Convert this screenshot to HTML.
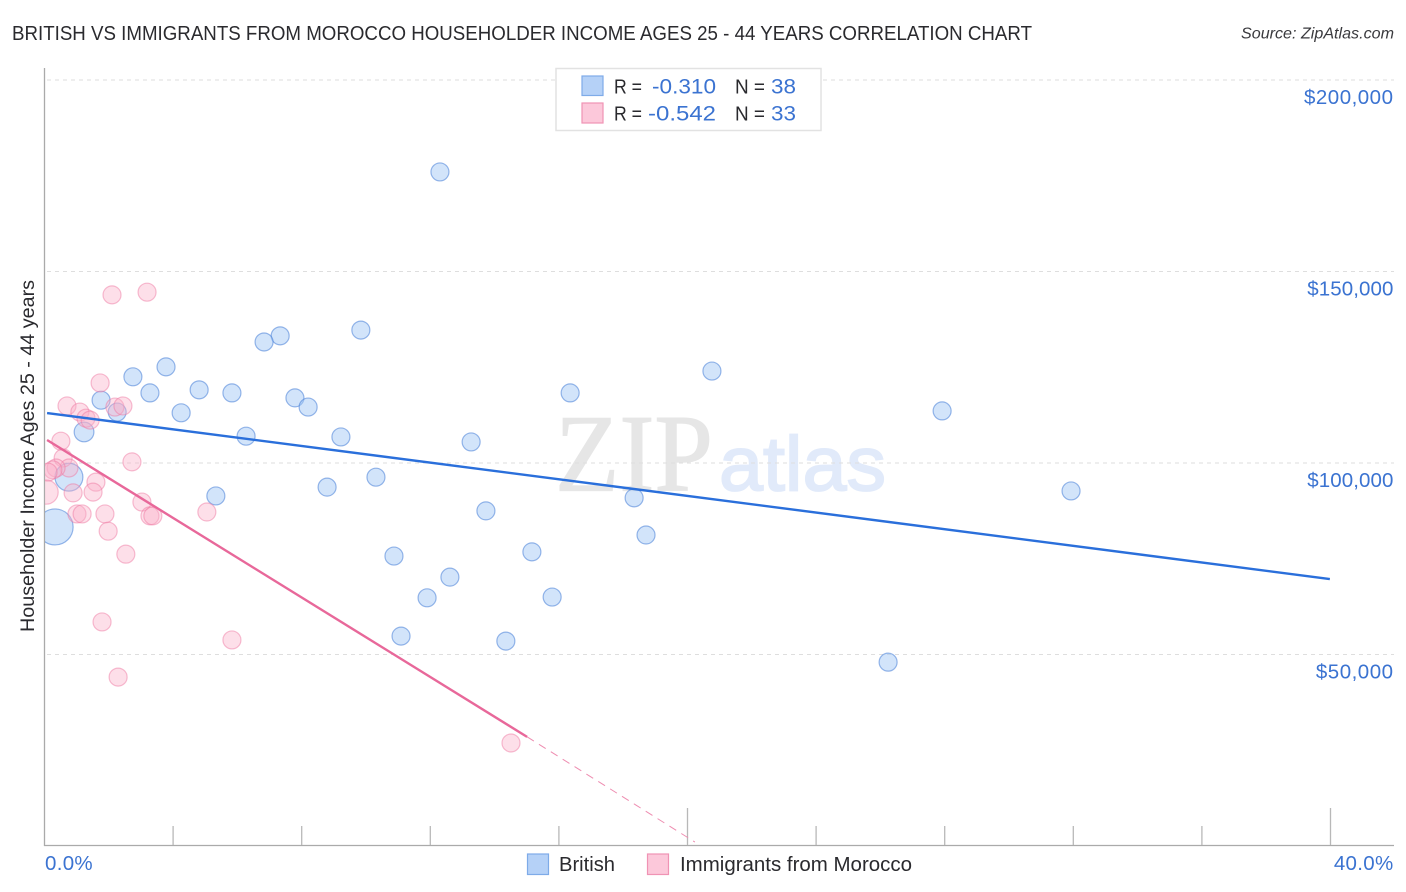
<!DOCTYPE html>
<html lang="en">
<head>
<meta charset="utf-8">
<title>British vs Immigrants from Morocco Householder Income Correlation Chart</title>
<style>
html,body{margin:0;padding:0;background:#fff;width:1406px;height:892px;overflow:hidden}
svg{display:block;font-family:"Liberation Sans",sans-serif}
</style>
</head>
<body>
<svg id="chart" xmlns="http://www.w3.org/2000/svg" width="1406" height="892" viewBox="0 0 1406 892">
  <defs><clipPath id="plot-clip"><rect x="45" y="60" width="1350" height="785"></rect></clipPath></defs>
  <rect x="0" y="0" width="1406" height="892" fill="#ffffff"></rect>

  <text x="12" y="40" font-size="20.5" fill="#2a2a2e" textLength="1020" lengthAdjust="spacingAndGlyphs">BRITISH VS IMMIGRANTS FROM MOROCCO HOUSEHOLDER INCOME AGES 25 - 44 YEARS CORRELATION CHART</text>
  <text x="1394" y="38.500" font-size="16" font-style="italic" fill="#3a3a3e" text-anchor="end" textLength="153" lengthAdjust="spacingAndGlyphs">Source: ZipAtlas.com</text>

  <g id="watermark">
    <text x="555" y="490.500" font-family="'Liberation Serif',serif" font-size="110" fill="#e6e6e6" stroke="#e6e6e6" stroke-width="1.200" textLength="158" lengthAdjust="spacingAndGlyphs">ZIP</text>
    <text x="719" y="490.500" font-size="77" fill="#e1eafa" stroke="#e1eafa" stroke-width="1.800" textLength="167" lengthAdjust="spacingAndGlyphs">atlas</text>
  </g>

  <g id="grid"></g>
  <g id="axes"></g>
  <g id="points" clip-path="url(#plot-clip)"></g>
  <g id="trends"></g>
  <g id="labels"></g>

  <text transform="translate(34,456) rotate(-90)" font-size="19.500" fill="#2a2a2e" text-anchor="middle" textLength="352" lengthAdjust="spacingAndGlyphs">Householder Income Ages 25 - 44 years</text>

  <g>
    <rect x="556" y="68.500" width="265" height="62" fill="#ffffff" stroke="#e2e2e2" stroke-width="1.500"></rect>
    <rect x="582" y="76" width="21" height="19.500" fill="#b5d1f7" stroke="#7eabe8" stroke-width="1.200"></rect>
    <text x="614" y="93.500" font-size="20" fill="#2a2a2e" textLength="28" lengthAdjust="spacingAndGlyphs">R =</text>
    <text x="652" y="93.500" font-size="21.500" fill="#3b73d1" textLength="64" lengthAdjust="spacingAndGlyphs">-0.310</text>
    <text x="735" y="93.500" font-size="20" fill="#2a2a2e" textLength="30" lengthAdjust="spacingAndGlyphs">N =</text>
    <text x="771" y="93.500" font-size="21.500" fill="#3b73d1" textLength="25" lengthAdjust="spacingAndGlyphs">38</text>
    <rect x="582" y="103" width="21" height="20" fill="#fcc8da" stroke="#f093b4" stroke-width="1.200"></rect>
    <text x="614" y="120.500" font-size="20" fill="#2a2a2e" textLength="28" lengthAdjust="spacingAndGlyphs">R =</text>
    <text x="648" y="120.500" font-size="21.500" fill="#3b73d1" textLength="68" lengthAdjust="spacingAndGlyphs">-0.542</text>
    <text x="735" y="120.500" font-size="20" fill="#2a2a2e" textLength="30" lengthAdjust="spacingAndGlyphs">N =</text>
    <text x="771" y="120.500" font-size="21.500" fill="#3b73d1" textLength="25" lengthAdjust="spacingAndGlyphs">33</text>
  </g>

  <g>
    <rect x="527.500" y="854" width="21" height="20.500" fill="#b5d1f7" stroke="#7eabe8" stroke-width="1.200"></rect>
    <text x="559" y="871" font-size="20" fill="#2a2a2e" textLength="56" lengthAdjust="spacingAndGlyphs">British</text>
    <rect x="647.500" y="854" width="21" height="20.500" fill="#fcc8da" stroke="#f093b4" stroke-width="1.200"></rect>
    <text x="680" y="871" font-size="20" fill="#2a2a2e" textLength="232" lengthAdjust="spacingAndGlyphs">Immigrants from Morocco</text>
  </g>
</svg>
<script>
// ---- data ----
const britishShare = [12.30,9.84,7.33,6.83,3.78,2.75,20.76,4.81,3.28,5.83,16.35,7.79,8.20,1.76,4.25,2.26,27.92,1.23,6.27,9.22,13.27,0.76,10.31,8.79,5.33,31.93,18.34,13.73,18.71,0.33,15.16,10.87,12.61,11.90,15.79,11.09,14.35,26.24];
const britishIncome = [176.0,134.7,133.2,131.6,125.1,122.5,124.0,119.1,118.3,118.3,118.3,117.0,114.6,116.4,113.1,113.3,113.6,108.1,107.0,106.8,105.5,96.3,96.3,93.7,91.4,92.7,90.9,87.5,81.2,83.3,76.8,75.7,70.2,64.8,65.0,54.8,53.5,48.0];
const britishWeight = [1,1,1,1,1,1,1,1,1,1,1,1,1,1,1,1,1,1.2,1,1,1,2.4,1,1,1,1,1,1,1,4,1,1,1,1,1,1,1,1];

const moroccoShare = [1.73,0.70,1.10,1.29,1.42,2.19,2.44,0.51,0.58,0.76,0.36,0.26,0.11,2.72,1.60,1.51,0.89,0.05,3.03,3.28,3.37,5.05,1.01,1.17,1.88,1.98,2.53,2.10,3.19,1.79,5.83,2.29,14.51];
const moroccoIncome = [120.9,114.9,113.3,111.7,111.2,114.6,114.9,105.7,101.3,98.7,98.7,98.2,97.6,100.3,95.0,92.4,92.2,92.4,89.8,86.2,86.2,87.2,86.7,86.7,86.7,82.2,76.2,143.9,144.6,58.5,53.8,44.1,26.9];
const moroccoWeight = [1,1,1,1,1,1,1,1,1,1,1,1,1,1,1,1,1,1.8,1,1,1,1,1,1,1,1,1,1,1,1,1,1,1];

const britishTrendShare = [0.08,39.98];
const britishTrendIncome = [113.05,69.7];
const moroccoTrendShare = [0.08,15.01];
const moroccoTrendIncome = [106.0,28.5];
const moroccoExtensionShare = [15.01,20.23];
const moroccoExtensionIncome = [28.5,1.04];

const yTickValues = [200,150,100,50];
const yTickLabels = ["$200,000","$150,000","$100,000","$50,000"];
const xTickValues = [0,4,8,12,16,20,24,28,32,36,40];
const xMajorTicks = [20,40];
const xEndValues = [0,40];
const xEndLabels = ["0.0%","40.0%"];

// ---- axis functions ----
const xScale = v => 44.5 + v * 32.15;
const yScale = v => 463 - (v - 100) * 3.83;
const rScale = w => 9 * Math.sqrt(w);

const NS = "http://www.w3.org/2000/svg";
function make(parent, tag, attrs, text) {
  const el = document.createElementNS(NS, tag);
  for (const k in attrs) el.setAttribute(k, attrs[k]);
  if (text !== undefined) el.textContent = text;
  parent.appendChild(el);
  return el;
}

const gGrid = document.getElementById("grid");
const gAxes = document.getElementById("axes");
const gPoints = document.getElementById("points");
const gTrends = document.getElementById("trends");
const gLabels = document.getElementById("labels");

// gridlines and y labels
yTickValues.forEach((v, i) => {
  const line = make(gGrid, "line", {x1: 47, x2: 1394, y1: yScale(v), y2: yScale(v), stroke: "#dedede", "stroke-width": 1, "stroke-dasharray": "4 4"});
  
  
  const spacing = yTickLabels[i].includes("1") ? 0.1 : 0.5;
  const label = make(gLabels, "text", {x: 1393.5, y: yScale(v) + 24, "font-size": 20.5, "letter-spacing": spacing, fill: "#3b73d1", "text-anchor": "end"}, yTickLabels[i]);
  
  
});

// axes
const yAxis = make(gAxes, "line", {x1: 44.5, x2: 44.5, y1: 68, y2: 846, stroke: "#aaaaaa", "stroke-width": 1.3});


const xAxis = make(gAxes, "line", {x1: 44, x2: 1394, y1: 845.5, y2: 845.5, stroke: "#aaaaaa", "stroke-width": 1.3});


xTickValues.forEach(v => {
  if (v === 0) return;
  const top = xMajorTicks.includes(v) ? 808 : 826;
  const tick = make(gAxes, "line", {x1: xScale(v), x2: xScale(v), y1: top, y2: 845, stroke: "#b8b8b8", "stroke-width": 1.3});
  
  
});
xEndValues.forEach((v, i) => {
  const anchor = i === 0 ? "start" : "end";
  const px = i === 0 ? xScale(v) + 0.5 : 1393.5;
  const label = make(gLabels, "text", {x: px, y: 870, "font-size": 20.5, "letter-spacing": 0.3, fill: "#3b73d1", "text-anchor": anchor}, xEndLabels[i]);
  
  
});

// points
britishShare.forEach((v, i) => {
  const c = make(gPoints, "circle", {cx: xScale(v), cy: yScale(britishIncome[i]), r: rScale(britishWeight[i]), fill: "rgba(160,198,245,0.48)", stroke: "rgba(70,125,215,0.55)", "stroke-width": 1.2});
  
  
});
moroccoShare.forEach((v, i) => {
  const c = make(gPoints, "circle", {cx: xScale(v), cy: yScale(moroccoIncome[i]), r: rScale(moroccoWeight[i]), fill: "rgba(250,175,200,0.4)", stroke: "rgba(238,120,160,0.48)", "stroke-width": 1.2});
  
  
});

// trend lines
const blueTrend = make(gTrends, "line", {x1: xScale(britishTrendShare[0]), y1: yScale(britishTrendIncome[0]), x2: xScale(britishTrendShare[1]), y2: yScale(britishTrendIncome[1]), stroke: "#2a6fdb", "stroke-width": 2.4});


const pinkTrend = make(gTrends, "line", {x1: xScale(moroccoTrendShare[0]), y1: yScale(moroccoTrendIncome[0]), x2: xScale(moroccoTrendShare[1]), y2: yScale(moroccoTrendIncome[1]), stroke: "#e8689a", "stroke-width": 2.4});


const pinkExt = make(gTrends, "line", {x1: xScale(moroccoExtensionShare[0]), y1: yScale(moroccoExtensionIncome[0]), x2: xScale(moroccoExtensionShare[1]), y2: yScale(moroccoExtensionIncome[1]), stroke: "#ee8cb0", "stroke-width": 1, "stroke-dasharray": "8 6"});


</script>
</body>
</html>
